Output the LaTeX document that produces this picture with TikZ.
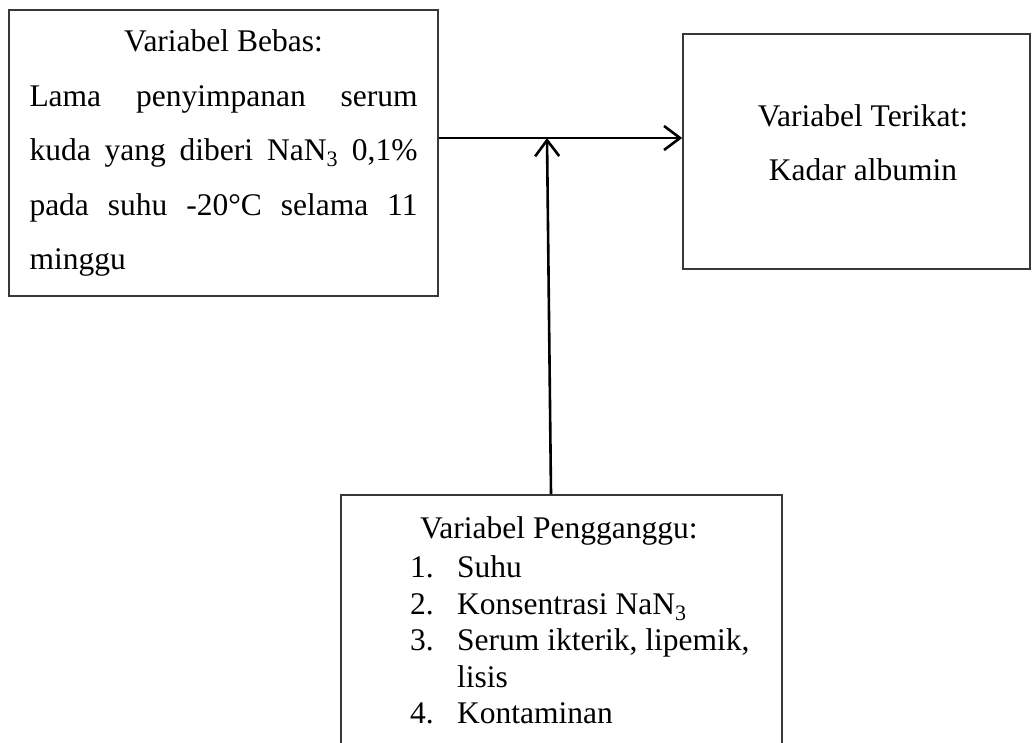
\documentclass[tikz,border=0pt]{standalone}
\usepackage{fontspec}
\setmainfont{Liberation Serif}
\usetikzlibrary{arrows.meta}
\begin{document}
\begin{tikzpicture}[x=1pt,y=-1pt,
  box/.style={draw=black!78, line width=1.6pt, inner sep=0pt},
  conn/.style={line width=2.6pt, -{Straight Barb[length=16pt,width=24pt]}},
  txt/.style={inner sep=0pt, font=\fontsize{31.5}{54.5}\selectfont}]
\clip (0,0) rectangle (1032,742);
\fill[white] (0,0) rectangle (1032,742);
% boxes
\node[box, txt, minimum width=429pt, minimum height=286pt, align=center] (bebas) at (223.5,153)
 {Variabel Bebas:\\
  \makebox[388pt][s]{Lama penyimpanan serum}\\
  \makebox[388pt][s]{kuda yang diberi NaN\textsubscript{3} 0,1\%}\\
  \makebox[388pt][s]{pada suhu -20°C selama 11}\\
  \makebox[388pt][l]{minggu}};
\node[box, minimum width=347pt, minimum height=235pt] (terikat) at (856.5,151.5) {};
\node[txt, align=center] (terikattext) at (863,142.5) {Variabel Terikat:\\Kadar albumin};
\node[box, minimum width=441pt, minimum height=300pt, anchor=north] (pengganggu) at (561.5,494) {};
\node[txt, anchor=north west, align=left, font=\fontsize{31.5}{36.5}\selectfont] (penggtext) at (410,516.5)
 {\hspace*{10pt}Variabel Pengganggu:\\[2.5pt]
  \makebox[47pt][l]{1.}Suhu\\
  \makebox[47pt][l]{2.}Konsentrasi NaN\textsubscript{3}\\
  \makebox[47pt][l]{3.}Serum ikterik, lipemik,\\
  \hspace*{47pt}lisis\\
  \makebox[47pt][l]{4.}Kontaminan};
% connectors
\coordinate (j) at (547,138);
\coordinate (p) at ([xshift=-10.5pt]pengganggu.north);
\draw[conn] (bebas.east |- j) -- (terikat.west |- j);
\draw[conn] (p) -- (j);
\end{tikzpicture}
\end{document}
